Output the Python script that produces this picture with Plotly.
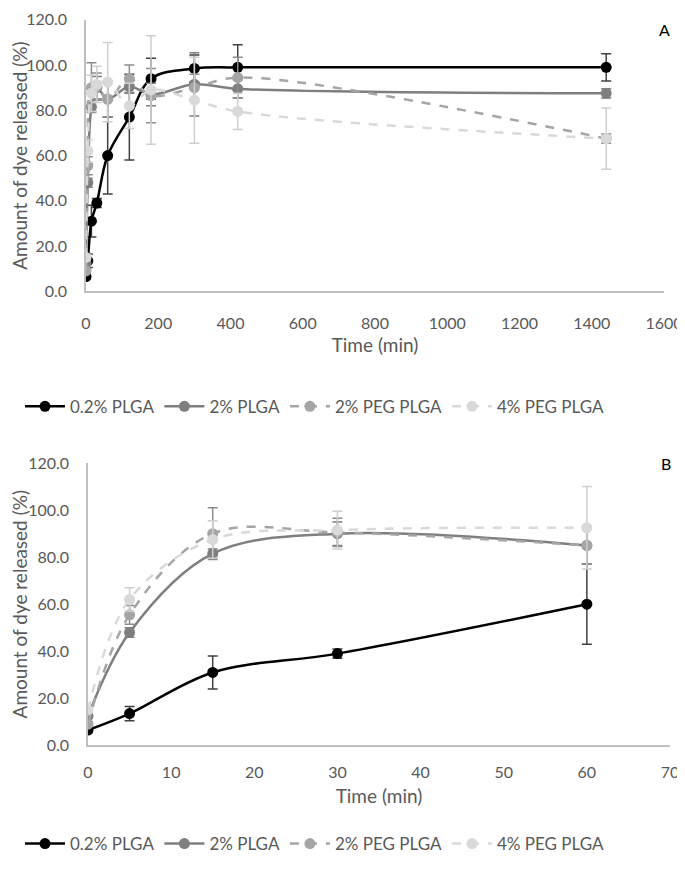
import plotly.graph_objects as go

# ---------------- data ----------------
time_a = [0, 5, 15, 30, 60, 120, 180, 300, 420, 1440]
time_b = [0, 5, 15, 30, 60]

series_names = ["0.2% PLGA", "2% PLGA", "2% PEG PLGA", "4% PEG PLGA"]

plga_02 = [6.5, 13.5, 31.0, 39.0, 60.0, 77.0, 94.0, 98.5, 99.0, 99.0]
plga_2 = [12.5, 48.0, 81.5, 90.0, 85.0, 90.5, 87.0, 91.5, 89.5, 87.5]
peg_plga_2 = [9.0, 55.5, 90.0, 90.5, 85.0, 94.0, 86.5, 90.0, 94.5, 67.5]
peg_plga_4 = [15.0, 62.0, 87.5, 91.5, 92.5, 82.0, 89.0, 84.5, 79.5, 67.5]

err_plga_02 = [1.0, 3.0, 7.0, 2.0, 17.0, 19.0, 9.0, 6.0, 10.0, 6.0]
err_plga_2 = [1.0, 2.0, 2.0, 5.0, 8.0, 3.0, 5.0, 14.0, 4.0, 2.0]
err_peg_plga_2 = [1.0, 4.0, 11.0, 6.0, 8.0, 6.0, 12.0, 6.0, 9.0, 2.0]
err_peg_plga_4 = [1.0, 5.0, 8.0, 8.0, 17.5, 10.0, 24.0, 19.0, 8.0, 13.5]

y_ticks = [0, 20, 40, 60, 80, 100, 120]
x_ticks_a = [0, 200, 400, 600, 800, 1000, 1200, 1400, 1600]
x_ticks_b = [0, 10, 20, 30, 40, 50, 60, 70]

# ---------------- styles ----------------
values = [plga_02, plga_2, peg_plga_2, peg_plga_4]
errors = [err_plga_02, err_plga_2, err_peg_plga_2, err_peg_plga_4]
line_colors = ["#000000", "#7f7f7f", "#a5a5a5", "#d9d9d9"]
err_colors = ["#404040", "#7f7f7f", "#8c8c8c", "#cfcfcf"]
dashes = ["solid", "solid", "dash", "dash"]
FONT = "Lato"
TXT = "#595959"

# page body has an 8px margin on every side; keep the figure inside the
# viewport so that no scrollbar appears
OFF = 8
W, H = 685 - OFF, 870 - 2 * OFF
fig = go.Figure()

n_b = len(time_b)
for panel in ("a", "b"):
    for i, name in enumerate(series_names):
        xs = time_a if panel == "a" else time_b
        ys = values[i] if panel == "a" else values[i][:n_b]
        es = errors[i] if panel == "a" else errors[i][:n_b]
        fig.add_trace(go.Scatter(
            x=xs, y=ys,
            mode="lines+markers",
            name=name,
            line=dict(color=line_colors[i], width=2.5, dash=dashes[i], shape="spline", smoothing=1.0),
            marker=dict(color=line_colors[i], size=11, symbol="circle"),
            error_y=dict(type="data", array=es, color=err_colors[i], thickness=1.5, width=5),
            xaxis="x" if panel == "a" else "x2",
            yaxis="y" if panel == "a" else "y2",
            legend="legend" if panel == "a" else "legend2",
        ))

axis_common = dict(
    showgrid=False, zeroline=False, showline=True, linecolor="#bfbfbf", linewidth=1.5,
    ticks="", automargin=False, ticklabeloverflow="allow",
    tickfont=dict(family=FONT, size=16, color=TXT),
)
title_font = dict(family=FONT, size=19, color=TXT)


def px_x(p):
    return (p - OFF) / W


def px_y(p):
    return 1 - (p - OFF) / H


fig.update_layout(
    width=W, height=H,
    margin=dict(l=0, r=0, t=0, b=0),
    paper_bgcolor="white", plot_bgcolor="white",
    font=dict(family=FONT, color=TXT),
    xaxis=dict(domain=[px_x(86), px_x(664)], range=[0, 1600], tickvals=x_ticks_a,
               anchor="y", ticklabelstandoff=17,
               title=dict(text="Time (min)", font=title_font, standoff=7),
               **axis_common),
    yaxis=dict(domain=[px_y(295), px_y(20)], range=[0, 120], tickvals=y_ticks, tickformat=".1f",
               anchor="x", ticklabelstandoff=14,
               title=dict(text="Amount of dye released (%)", font=title_font, standoff=10),
               **axis_common),
    xaxis2=dict(domain=[px_x(88), px_x(670)], range=[0, 70], tickvals=x_ticks_b,
                anchor="y2", ticklabelstandoff=12,
                title=dict(text="Time (min)", font=title_font, standoff=9),
                **axis_common),
    yaxis2=dict(domain=[px_y(755), px_y(469)], range=[0, 120], tickvals=y_ticks, tickformat=".1f",
                anchor="x2", ticklabelstandoff=14,
                title=dict(text="Amount of dye released (%)", font=title_font, standoff=10),
                **axis_common),
    legend=dict(orientation="h", x=px_x(20), y=px_y(412), xanchor="left", yanchor="middle",
                font=dict(family=FONT, size=17, color=TXT), itemwidth=40, bgcolor="rgba(0,0,0,0)"),
    legend2=dict(orientation="h", x=px_x(20), y=px_y(855), xanchor="left", yanchor="middle",
                 font=dict(family=FONT, size=17, color=TXT), itemwidth=40, bgcolor="rgba(0,0,0,0)"),
    showlegend=True,
    annotations=[
        dict(text="A", x=px_x(672), y=px_y(18), xref="paper", yref="paper", showarrow=False,
             font=dict(family=FONT, size=16, color="#000000")),
        dict(text="B", x=px_x(673), y=px_y(469), xref="paper", yref="paper", showarrow=False,
             font=dict(family=FONT, size=16, color="#000000")),
    ],
)

fig.write_html("out.html")
